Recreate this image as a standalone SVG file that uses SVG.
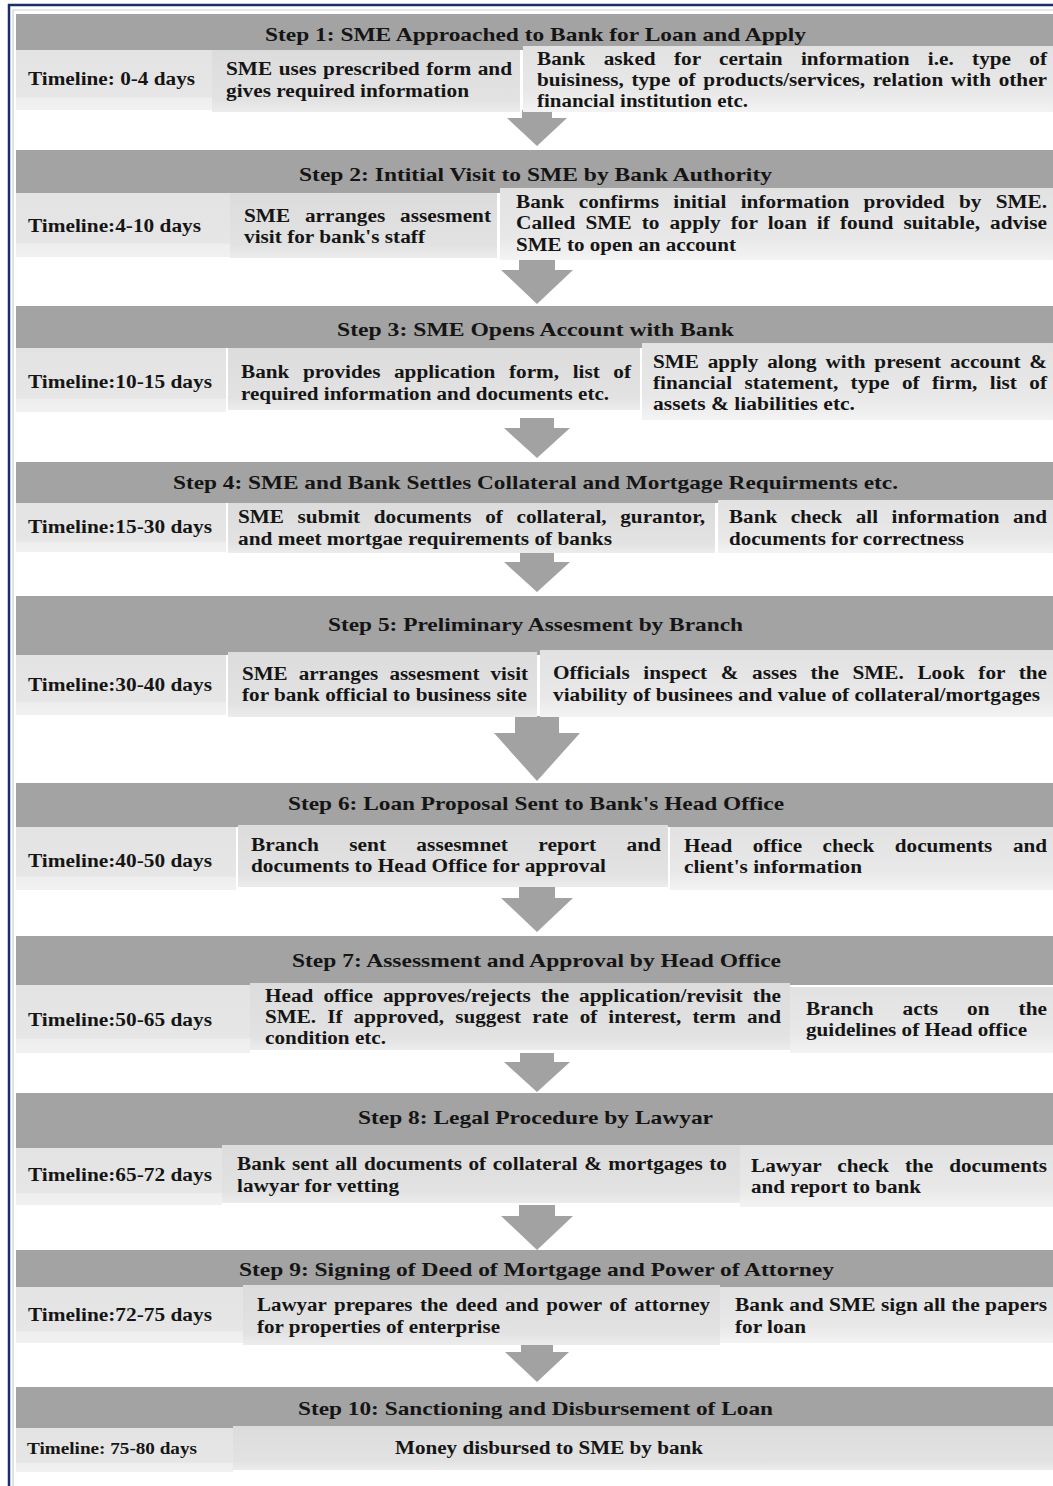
<svg xmlns="http://www.w3.org/2000/svg" width="1053" height="1486" viewBox="0 0 1053 1486">
<style>
text{font-family:"Liberation Serif","Times New Roman",serif;font-weight:bold;fill:#151515;}
.h{font-size:19.5px;}
.b{font-size:18px;}
.t{font-size:18px;}
.hd{fill:#a3a3a3;}
.tl{fill:url(#gt);}
.bx{fill:url(#gb);}
.bx3{fill:url(#gc);}
.arr{fill:#a2a2a2;}
</style>
<defs>
<linearGradient id="gt" x1="0" y1="0" x2="0" y2="1"><stop offset="0" stop-color="#e3e3e3"/><stop offset="0.78" stop-color="#e6e6e6"/><stop offset="0.8" stop-color="#eeeeee"/><stop offset="1" stop-color="#f1f1f1"/></linearGradient>
<linearGradient id="gb" x1="0" y1="0" x2="0" y2="1"><stop offset="0" stop-color="#dcdcdc"/><stop offset="0.8" stop-color="#e2e2e2"/><stop offset="1" stop-color="#ececec"/></linearGradient>
<linearGradient id="gc" x1="0" y1="0" x2="0" y2="1"><stop offset="0" stop-color="#e2e2e2"/><stop offset="0.7" stop-color="#e8e8e8"/><stop offset="1" stop-color="#f3f3f3"/></linearGradient>
</defs>
<rect width="1053" height="1486" fill="#ffffff"/>
<g id="frame">
<line x1="8" y1="5" x2="1053" y2="5" stroke="#1a2e6e" stroke-width="2.5"/>
<line x1="9" y1="4" x2="9" y2="1486" stroke="#1a2e6e" stroke-width="2.5"/>
<line x1="13" y1="10" x2="1053" y2="10" stroke="#cfcfcf" stroke-width="1.2"/>
<line x1="13" y1="10" x2="13" y2="1486" stroke="#cfcfcf" stroke-width="1.2"/>
</g>
<g id="connectors">
<path class="arr" d="M522,110 H552 V118 H567 L537,146 L507,118 H522 Z"/>
<path class="arr" d="M519,258 H555 V270 H573 L537,304 L501,270 H519 Z"/>
<path class="arr" d="M520,418 H554 V428 H570 L537,458 L504,428 H520 Z"/>
<path class="arr" d="M520,552 H554 V562 H570 L537,592 L504,562 H520 Z"/>
<path class="arr" d="M515,716 H559 V733 H580 L537,781 L494,733 H515 Z"/>
<path class="arr" d="M519,887 H555 V898 H573 L537,932 L501,898 H519 Z"/>
<path class="arr" d="M520,1053 H554 V1062 H570 L537,1092 L504,1062 H520 Z"/>
<path class="arr" d="M519,1205 H555 V1216 H573 L537,1250 L501,1216 H519 Z"/>
<path class="arr" d="M521,1343 H553 V1352 H569 L537,1382 L505,1352 H521 Z"/>
</g>
<g id="step1">
<rect class="hd" x="16" y="14" width="1037" height="36"/>
<rect class="tl" x="16" y="50" width="196" height="60"/>
<rect class="bx" x="212" y="50" width="308" height="62"/>
<rect class="bx3" x="523" y="46" width="530" height="66"/>
<text class="h" x="265" y="41" textLength="541" lengthAdjust="spacingAndGlyphs">Step 1: SME Approached to Bank for Loan and Apply</text>
<text class="t" x="28" y="85" textLength="167" lengthAdjust="spacingAndGlyphs">Timeline: 0-4 days</text>
<text class="b" x="226" y="75" textLength="286" lengthAdjust="spacingAndGlyphs" style="word-spacing:1px">SME uses prescribed form and</text>
<text class="b" x="226" y="97" textLength="243" lengthAdjust="spacingAndGlyphs">gives required information</text>
<text class="b" x="537" y="65" textLength="510" lengthAdjust="spacingAndGlyphs" style="word-spacing:11px">Bank asked for certain information i.e. type of</text>
<text class="b" x="537" y="86" textLength="510" lengthAdjust="spacingAndGlyphs" style="word-spacing:2px">buisiness, type of products/services, relation with other</text>
<text class="b" x="537" y="107" textLength="211" lengthAdjust="spacingAndGlyphs">financial institution etc.</text>
</g>
<g id="step2">
<rect class="hd" x="16" y="150" width="1037" height="43"/>
<rect class="tl" x="16" y="193" width="214" height="64"/>
<rect class="bx" x="230" y="193" width="267" height="65"/>
<rect class="bx3" x="500" y="188" width="553" height="72"/>
<text class="h" x="299" y="181" textLength="473" lengthAdjust="spacingAndGlyphs">Step 2: Intitial Visit to SME by Bank Authority</text>
<text class="t" x="28" y="232" textLength="173" lengthAdjust="spacingAndGlyphs">Timeline:4-10 days</text>
<text class="b" x="244" y="222" textLength="247" lengthAdjust="spacingAndGlyphs" style="word-spacing:8px">SME arranges assesment</text>
<text class="b" x="244" y="243" textLength="181" lengthAdjust="spacingAndGlyphs">visit for bank's staff</text>
<text class="b" x="516" y="208" textLength="531" lengthAdjust="spacingAndGlyphs" style="word-spacing:7.6px">Bank confirms initial information provided by SME.</text>
<text class="b" x="516" y="229" textLength="531" lengthAdjust="spacingAndGlyphs" style="word-spacing:4px">Called SME to apply for loan if found suitable, advise</text>
<text class="b" x="516" y="251" textLength="220" lengthAdjust="spacingAndGlyphs">SME to open an account</text>
</g>
<g id="step3">
<rect class="hd" x="16" y="306" width="1037" height="42"/>
<rect class="tl" x="16" y="348" width="210" height="64"/>
<rect class="bx" x="228" y="348" width="412" height="62"/>
<rect class="bx3" x="642" y="343" width="411" height="77"/>
<text class="h" x="337" y="336" textLength="397" lengthAdjust="spacingAndGlyphs">Step 3: SME Opens Account  with Bank</text>
<text class="t" x="28" y="388" textLength="184" lengthAdjust="spacingAndGlyphs">Timeline:10-15 days</text>
<text class="b" x="241" y="378" textLength="390" lengthAdjust="spacingAndGlyphs" style="word-spacing:7px">Bank provides application form, list of</text>
<text class="b" x="241" y="400" textLength="368" lengthAdjust="spacingAndGlyphs">required information and documents etc.</text>
<text class="b" x="653" y="368" textLength="394" lengthAdjust="spacingAndGlyphs" style="word-spacing:3px">SME apply along with present account &amp;</text>
<text class="b" x="653" y="389" textLength="394" lengthAdjust="spacingAndGlyphs" style="word-spacing:6px">financial statement, type of firm, list of</text>
<text class="b" x="653" y="410" textLength="202" lengthAdjust="spacingAndGlyphs">assets &amp; liabilities etc.</text>
</g>
<g id="step4">
<rect class="hd" x="16" y="462" width="1037" height="41"/>
<rect class="tl" x="16" y="503" width="210" height="49"/>
<rect class="bx" x="228" y="503" width="487" height="50"/>
<rect class="bx3" x="718" y="500" width="335" height="53"/>
<text class="h" x="173" y="489" textLength="725" lengthAdjust="spacingAndGlyphs">Step 4: SME and Bank Settles Collateral and Mortgage Requirments etc.</text>
<text class="t" x="28" y="533" textLength="184" lengthAdjust="spacingAndGlyphs">Timeline:15-30 days</text>
<text class="b" x="238" y="523" textLength="467" lengthAdjust="spacingAndGlyphs" style="word-spacing:7px">SME submit documents of collateral, gurantor,</text>
<text class="b" x="238" y="545" textLength="374" lengthAdjust="spacingAndGlyphs">and meet mortgae requirements of banks</text>
<text class="b" x="729" y="523" textLength="318" lengthAdjust="spacingAndGlyphs" style="word-spacing:7px">Bank check all information and</text>
<text class="b" x="729" y="545" textLength="235" lengthAdjust="spacingAndGlyphs">documents for correctness</text>
</g>
<g id="step5">
<rect class="hd" x="16" y="596" width="1037" height="59"/>
<rect class="tl" x="16" y="655" width="210" height="60"/>
<rect class="bx" x="228" y="652" width="309" height="65"/>
<rect class="bx3" x="540" y="650" width="513" height="67"/>
<text class="h" x="328" y="631" textLength="415" lengthAdjust="spacingAndGlyphs">Step 5: Preliminary Assesment by Branch</text>
<text class="t" x="28" y="691" textLength="184" lengthAdjust="spacingAndGlyphs">Timeline:30-40 days</text>
<text class="b" x="242" y="680" textLength="286" lengthAdjust="spacingAndGlyphs" style="word-spacing:5px">SME arranges assesment visit</text>
<text class="b" x="242" y="701" textLength="285" lengthAdjust="spacingAndGlyphs">for bank official to business site</text>
<text class="b" x="553" y="679" textLength="494" lengthAdjust="spacingAndGlyphs" style="word-spacing:7px">Officials inspect &amp; asses the SME. Look for the</text>
<text class="b" x="553" y="701" textLength="487" lengthAdjust="spacingAndGlyphs">viability of businees and value of collateral/mortgages</text>
</g>
<g id="step6">
<rect class="hd" x="16" y="783" width="1037" height="44"/>
<rect class="tl" x="16" y="827" width="220" height="63"/>
<rect class="bx" x="238" y="825" width="430" height="62"/>
<rect class="bx3" x="670" y="827" width="383" height="63"/>
<text class="h" x="288" y="810" textLength="496" lengthAdjust="spacingAndGlyphs">Step 6: Loan Proposal Sent to Bank's Head Office</text>
<text class="t" x="28" y="867" textLength="184" lengthAdjust="spacingAndGlyphs">Timeline:40-50 days</text>
<text class="b" x="251" y="851" textLength="410" lengthAdjust="spacingAndGlyphs" style="word-spacing:21px">Branch sent assesmnet report and</text>
<text class="b" x="251" y="872" textLength="355" lengthAdjust="spacingAndGlyphs">documents to Head Office for approval</text>
<text class="b" x="684" y="852" textLength="363" lengthAdjust="spacingAndGlyphs" style="word-spacing:13px">Head office check documents and</text>
<text class="b" x="684" y="873" textLength="178" lengthAdjust="spacingAndGlyphs">client's information</text>
</g>
<g id="step7">
<rect class="hd" x="16" y="936" width="1037" height="49"/>
<rect class="tl" x="16" y="985" width="234" height="68"/>
<rect class="bx" x="250" y="983" width="540" height="67"/>
<rect class="bx3" x="790" y="987" width="263" height="66"/>
<text class="h" x="292" y="967" textLength="489" lengthAdjust="spacingAndGlyphs">Step 7: Assessment and Approval by Head Office</text>
<text class="t" x="28" y="1026" textLength="184" lengthAdjust="spacingAndGlyphs">Timeline:50-65 days</text>
<text class="b" x="265" y="1002" textLength="516" lengthAdjust="spacingAndGlyphs" style="word-spacing:4px">Head office approves/rejects the application/revisit the</text>
<text class="b" x="265" y="1023" textLength="516" lengthAdjust="spacingAndGlyphs" style="word-spacing:5px">SME. If approved, suggest rate of interest, term and</text>
<text class="b" x="265" y="1044" textLength="121" lengthAdjust="spacingAndGlyphs">condition etc.</text>
<text class="b" x="806" y="1015" textLength="241" lengthAdjust="spacingAndGlyphs" style="word-spacing:20px">Branch acts on the</text>
<text class="b" x="806" y="1036" textLength="221" lengthAdjust="spacingAndGlyphs">guidelines of Head office</text>
</g>
<g id="step8">
<rect class="hd" x="16" y="1093" width="1037" height="55"/>
<rect class="tl" x="16" y="1148" width="206" height="57"/>
<rect class="bx" x="222" y="1145" width="518" height="58"/>
<rect class="bx3" x="740" y="1145" width="313" height="62"/>
<text class="h" x="358" y="1124" textLength="355" lengthAdjust="spacingAndGlyphs">Step 8: Legal Procedure by Lawyar</text>
<text class="t" x="28" y="1181" textLength="184" lengthAdjust="spacingAndGlyphs">Timeline:65-72 days</text>
<text class="b" x="237" y="1170" textLength="490" lengthAdjust="spacingAndGlyphs" style="word-spacing:1px">Bank sent all documents of collateral &amp; mortgages to</text>
<text class="b" x="237" y="1192" textLength="162" lengthAdjust="spacingAndGlyphs">lawyar for vetting</text>
<text class="b" x="751" y="1172" textLength="296" lengthAdjust="spacingAndGlyphs" style="word-spacing:9px">Lawyar check the documents</text>
<text class="b" x="751" y="1193" textLength="170" lengthAdjust="spacingAndGlyphs">and report to bank</text>
</g>
<g id="step9">
<rect class="hd" x="16" y="1250" width="1037" height="37"/>
<rect class="tl" x="16" y="1287" width="227" height="56"/>
<rect class="bx" x="243" y="1285" width="477" height="60"/>
<rect class="bx3" x="720" y="1287" width="333" height="56"/>
<text class="h" x="239" y="1276" textLength="595" lengthAdjust="spacingAndGlyphs">Step 9: Signing of Deed of Mortgage and Power of Attorney</text>
<text class="t" x="28" y="1321" textLength="184" lengthAdjust="spacingAndGlyphs">Timeline:72-75 days</text>
<text class="b" x="257" y="1311" textLength="453" lengthAdjust="spacingAndGlyphs" style="word-spacing:2px">Lawyar prepares the deed and power of attorney</text>
<text class="b" x="257" y="1333" textLength="243" lengthAdjust="spacingAndGlyphs">for properties of enterprise</text>
<text class="b" x="735" y="1311" textLength="312" lengthAdjust="spacingAndGlyphs">Bank and SME sign all the papers</text>
<text class="b" x="735" y="1333" textLength="71" lengthAdjust="spacingAndGlyphs">for loan</text>
</g>
<g id="step10">
<rect class="hd" x="16" y="1387" width="1037" height="41"/>
<rect class="tl" x="16" y="1428" width="217" height="44"/>
<rect class="bx" x="233" y="1426" width="820" height="44"/>
<text class="h" x="298" y="1415" textLength="475" lengthAdjust="spacingAndGlyphs">Step 10: Sanctioning and Disbursement of Loan</text>
<text class="t" x="27" y="1454" textLength="170" lengthAdjust="spacingAndGlyphs" style="font-size:16px">Timeline: 75-80 days</text>
<text class="b" x="395" y="1454" textLength="308" lengthAdjust="spacingAndGlyphs">Money disbursed to SME by bank</text>
</g>
</svg>
